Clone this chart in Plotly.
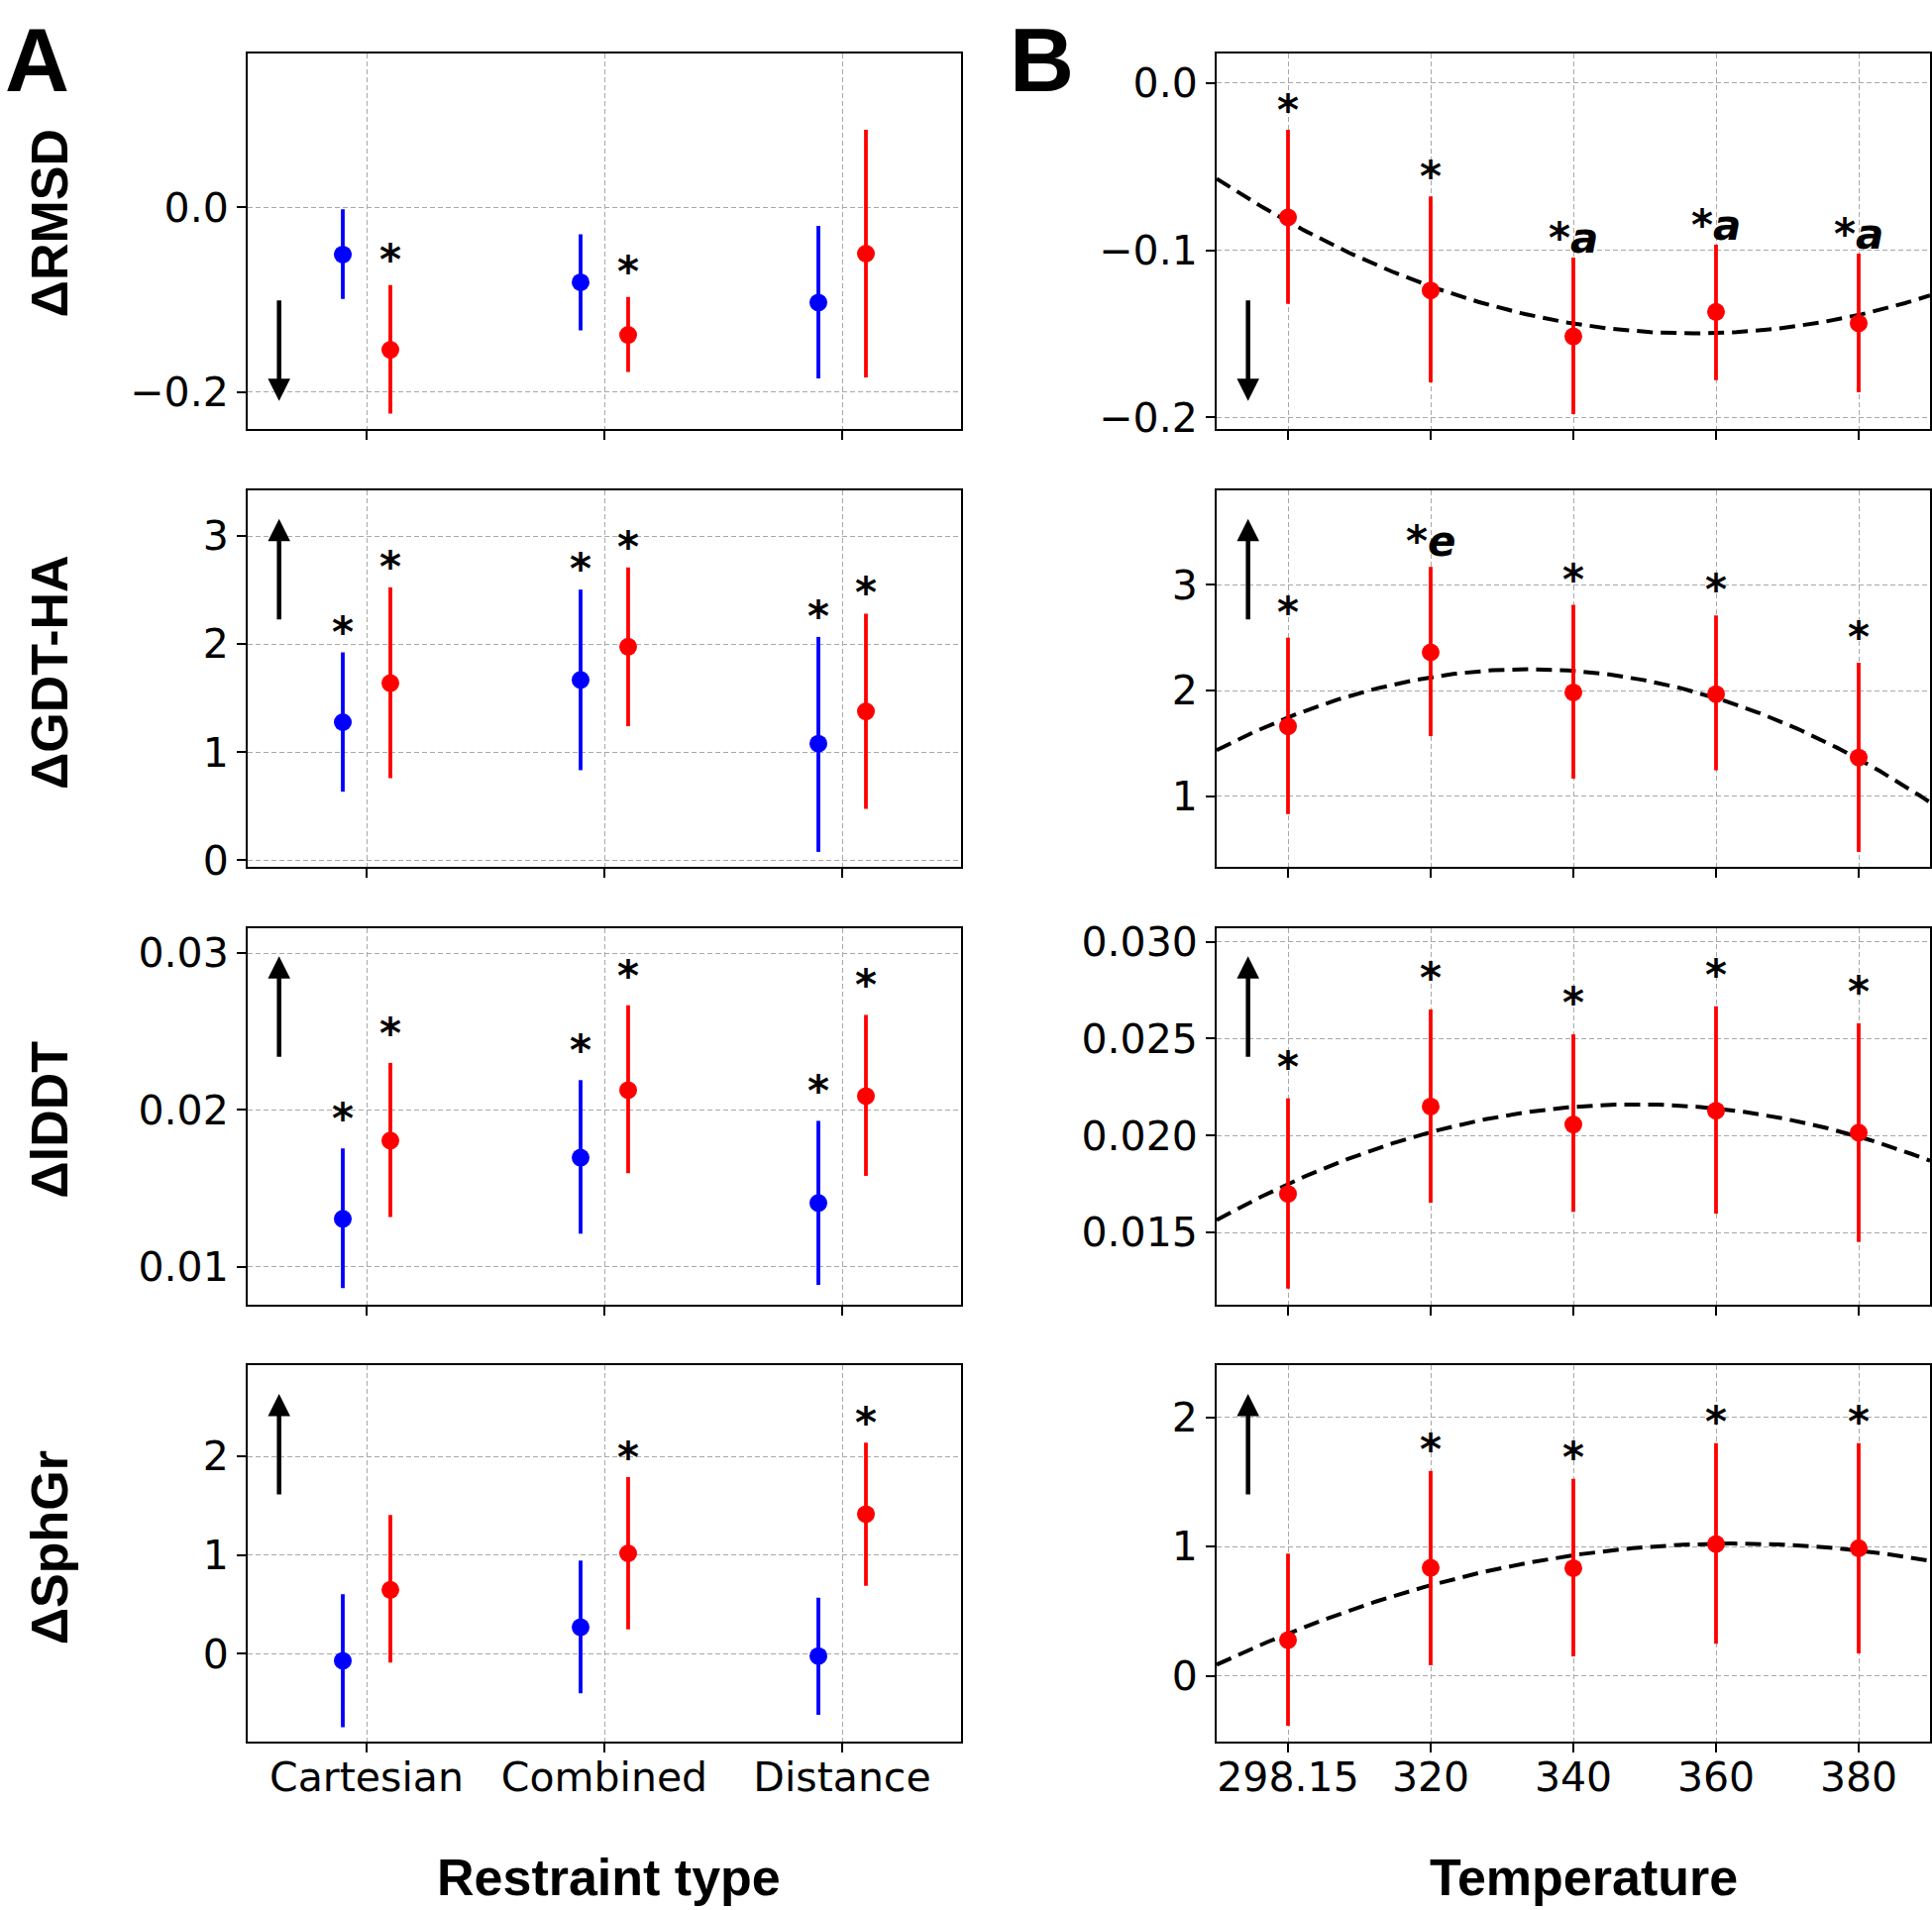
import numpy as np
import plotly.graph_objects as go

# ---------------- data ----------------
restraint_types = ["Cartesian", "Combined", "Distance"]
temperatures = ["298.15", "320", "340", "360", "380"]

# Panel A (blue / red series per restraint type)
rmsd_blue_mean = [-0.051, -0.081, -0.103]
rmsd_blue_lo = [-0.099, -0.133, -0.185]
rmsd_blue_hi = [-0.002, -0.029, -0.020]
rmsd_red_mean = [-0.154, -0.138, -0.050]
rmsd_red_lo = [-0.223, -0.178, -0.184]
rmsd_red_hi = [-0.084, -0.097, 0.084]
rmsd_blue_sig = ["", "", ""]
rmsd_red_sig = ["*", "*", ""]

gdt_blue_mean = [1.277, 1.668, 1.078]
gdt_blue_lo = [0.634, 0.833, 0.077]
gdt_blue_hi = [1.923, 2.504, 2.066]
gdt_red_mean = [1.638, 1.975, 1.377]
gdt_red_lo = [0.759, 1.240, 0.475]
gdt_red_hi = [2.525, 2.709, 2.281]
gdt_blue_sig = ["*", "*", "*"]
gdt_red_sig = ["*", "*", "*"]

lddt_blue_mean = [0.01305, 0.01695, 0.01406]
lddt_blue_lo = [0.00863, 0.01210, 0.00884]
lddt_blue_hi = [0.01754, 0.02190, 0.01930]
lddt_red_mean = [0.01804, 0.02126, 0.02088]
lddt_red_lo = [0.01316, 0.01596, 0.01579]
lddt_red_hi = [0.02300, 0.02668, 0.02606]
lddt_blue_sig = ["*", "*", "*"]
lddt_red_sig = ["*", "*", "*"]

sph_blue_mean = [-0.070, 0.270, -0.022]
sph_blue_lo = [-0.744, -0.400, -0.617]
sph_blue_hi = [0.605, 0.945, 0.570]
sph_red_mean = [0.648, 1.018, 1.415]
sph_red_lo = [-0.088, 0.248, 0.689]
sph_red_hi = [1.408, 1.790, 2.140]
sph_blue_sig = ["", "", ""]
sph_red_sig = ["", "*", "*"]

# Panel B (per temperature)
rmsd_t_mean = [-0.0803, -0.1240, -0.1515, -0.1368, -0.1437]
rmsd_t_lo = [-0.1320, -0.1790, -0.1980, -0.1776, -0.1850]
rmsd_t_hi = [-0.0279, -0.0677, -0.1044, -0.0966, -0.1020]
rmsd_t_sig = ["*", "*", "*a", "*a", "*a"]

gdt_t_mean = [1.662, 2.361, 1.982, 1.966, 1.367]
gdt_t_lo = [0.832, 1.569, 1.168, 1.246, 0.475]
gdt_t_hi = [2.500, 3.169, 2.810, 2.710, 2.262]
gdt_t_sig = ["*", "*e", "*", "*", "*"]

lddt_t_mean = [0.01699, 0.02150, 0.02057, 0.02128, 0.02015]
lddt_t_lo = [0.01210, 0.01653, 0.01606, 0.01597, 0.01451]
lddt_t_hi = [0.02192, 0.02650, 0.02522, 0.02667, 0.02579]
lddt_t_sig = ["*", "*", "*", "*", "*"]

sph_t_mean = [0.276, 0.836, 0.833, 1.020, 0.987]
sph_t_lo = [-0.386, 0.082, 0.151, 0.248, 0.174]
sph_t_hi = [0.946, 1.585, 1.524, 1.800, 1.800]
sph_t_sig = ["", "*", "*", "*", "*"]

metric_titles = ["ΔRMSD", "ΔGDT-HA", "ΔlDDT", "ΔSphGr"]

# ---------------- layout helpers ----------------
W, H = 1950, 1928


def fy(t):
    # vertical pixel placement (compensated for the observed render mapping)
    return (t - 8.4) / 0.9863


col_px = [(250, 970), (1228, 1948)]
row_px = [(52, 432), (494, 874), (936, 1316), (1378, 1758)]
BLUE, RED = "#0000ff", "#ff0000"
TICK_FONT = dict(family="DejaVu Sans", size=41, color="black")
STAR_FONT = dict(family="DejaVu Sans", size=42, color="black")
TITLE_FONT = dict(family="Liberation Sans", size=52, color="black")

rowsA = [
    dict(bm=rmsd_blue_mean, bl=rmsd_blue_lo, bh=rmsd_blue_hi, bs=rmsd_blue_sig,
         rm=rmsd_red_mean, rl=rmsd_red_lo, rh=rmsd_red_hi, rs=rmsd_red_sig,
         yr=[-0.24, 0.167], tv=[-0.2, 0.0], tt=["−0.2", "0.0"], up=False, ss=0),
    dict(bm=gdt_blue_mean, bl=gdt_blue_lo, bh=gdt_blue_hi, bs=gdt_blue_sig,
         rm=gdt_red_mean, rl=gdt_red_lo, rh=gdt_red_hi, rs=gdt_red_sig,
         yr=[-0.06, 3.42], tv=[0, 1, 2, 3], tt=["0", "1", "2", "3"], up=True, ss=-5),
    dict(bm=lddt_blue_mean, bl=lddt_blue_lo, bh=lddt_blue_hi, bs=lddt_blue_sig,
         rm=lddt_red_mean, rl=lddt_red_lo, rh=lddt_red_hi, rs=lddt_red_sig,
         yr=[0.0076, 0.0316], tv=[0.01, 0.02, 0.03], tt=["0.01", "0.02", "0.03"], up=True, ss=4),
    dict(bm=sph_blue_mean, bl=sph_blue_lo, bh=sph_blue_hi, bs=sph_blue_sig,
         rm=sph_red_mean, rl=sph_red_lo, rh=sph_red_hi, rs=sph_red_sig,
         yr=[-0.89, 2.92], tv=[0, 1, 2], tt=["0", "1", "2"], up=True, ss=-6),
]
rowsB = [
    dict(m=rmsd_t_mean, l=rmsd_t_lo, h=rmsd_t_hi, s=rmsd_t_sig,
         yr=[-0.207, 0.018], tv=[-0.2, -0.1, 0.0], tt=["−0.2", "−0.1", "0.0"], up=False, ss=-6),
    dict(m=gdt_t_mean, l=gdt_t_lo, h=gdt_t_hi, s=gdt_t_sig,
         yr=[0.335, 3.89], tv=[1, 2, 3], tt=["1", "2", "3"], up=True, ss=0),
    dict(m=lddt_t_mean, l=lddt_t_lo, h=lddt_t_hi, s=lddt_t_sig,
         yr=[0.0113, 0.0307], tv=[0.015, 0.020, 0.025, 0.030],
         tt=["0.015", "0.020", "0.025", "0.030"], up=True, ss=6),
    dict(m=sph_t_mean, l=sph_t_lo, h=sph_t_hi, s=sph_t_sig,
         yr=[-0.51, 2.40], tv=[0, 1, 2], tt=["0", "1", "2"], up=True, ss=-4),
]

fig = go.Figure()
annotations = []
layout = {}


def names(k):
    s = "" if k == 0 else str(k + 1)
    return "x" + s, "y" + s, "xaxis" + s, "yaxis" + s


def fmt_sig(s):
    if not s:
        return ""
    if len(s) > 1:
        return "<b>" + s[0] + "<i>" + s[1:] + "</i></b>"
    return "<b>" + s + "</b>"


def add_points(xn, yn, xs, mean, lo, hi, color):
    mean = np.array(mean)
    fig.add_trace(go.Scatter(
        x=xs, y=mean, xaxis=xn, yaxis=yn, mode="markers",
        marker=dict(size=18, color=color),
        error_y=dict(type="data", symmetric=False,
                     array=np.array(hi) - mean, arrayminus=mean - np.array(lo),
                     color=color, thickness=3.8, width=0),
        showlegend=False, hoverinfo="skip"))


def add_sigs(xn, yn, xs, hi, sig, shift):
    for x, h, s in zip(xs, hi, sig):
        if s:
            annotations.append(dict(x=x, y=h, xref=xn, yref=yn, text=fmt_sig(s),
                                    showarrow=False, xanchor="center", yanchor="bottom",
                                    yshift=-1 + shift, font=STAR_FONT))


def add_arrow(xn, yn, up):
    if up:
        annotations.append(dict(x=0.044, y=0.925, xref=xn + " domain", yref=yn + " domain",
                                ax=0, ay=103, axref="pixel", ayref="pixel", text="",
                                showarrow=True, arrowhead=2, arrowsize=1.0,
                                arrowwidth=4.5, arrowcolor="black"))
    else:
        annotations.append(dict(x=0.044, y=0.075, xref=xn + " domain", yref=yn + " domain",
                                ax=0, ay=-103, axref="pixel", ayref="pixel", text="",
                                showarrow=True, arrowhead=2, arrowsize=1.0,
                                arrowwidth=4.5, arrowcolor="black"))


def axis_common():
    return dict(showline=True, mirror=True, linecolor="black", linewidth=2,
                ticks="outside", ticklen=9, tickwidth=1.5, tickcolor="black",
                showgrid=True, gridcolor="#a8a8a8", gridwidth=1, griddash="5px,3px",
                zeroline=False, tickfont=TICK_FONT)


for r in range(4):
    top, bot = row_px[r]
    ydom = [1 - fy(bot) / H, 1 - fy(top) / H]
    # ---- column A ----
    k = 2 * r
    xn, yn, xa, ya = names(k)
    d = rowsA[r]
    idx = np.arange(len(restraint_types))
    add_points(xn, yn, idx - 0.1, d["bm"], d["bl"], d["bh"], BLUE)
    add_points(xn, yn, idx + 0.1, d["rm"], d["rl"], d["rh"], RED)
    add_sigs(xn, yn, idx - 0.1, d["bh"], d["bs"], d["ss"])
    add_sigs(xn, yn, idx + 0.1, d["rh"], d["rs"], d["ss"])
    add_arrow(xn, yn, d["up"])
    layout[xa] = dict(domain=[col_px[0][0] / W, col_px[0][1] / W], anchor=yn,
                      range=[-0.5, 2.5], tickvals=list(idx), ticktext=restraint_types,
                      showticklabels=(r == 3), ticklabelstandoff=-10, **axis_common())
    layout[ya] = dict(domain=ydom, anchor=xn, range=d["yr"], tickvals=d["tv"],
                      ticktext=d["tt"], **axis_common())
    # ---- column B ----
    k = 2 * r + 1
    xn, yn, xa, ya = names(k)
    d = rowsB[r]
    idx = np.arange(len(temperatures))
    coef = np.polyfit(idx, d["m"], 2)
    xf = np.linspace(-0.5, 4.5, 200)
    fig.add_trace(go.Scatter(x=xf, y=np.polyval(coef, xf), xaxis=xn, yaxis=yn,
                             mode="lines", line=dict(color="black", width=4, dash="16px,8px"),
                             showlegend=False, hoverinfo="skip"))
    add_points(xn, yn, idx, d["m"], d["l"], d["h"], RED)
    add_sigs(xn, yn, idx, d["h"], d["s"], d["ss"])
    add_arrow(xn, yn, d["up"])
    layout[xa] = dict(domain=[col_px[1][0] / W, col_px[1][1] / W], anchor=yn,
                      range=[-0.5, 4.5], tickvals=list(idx), ticktext=temperatures,
                      showticklabels=(r == 3), ticklabelstandoff=-10, **axis_common())
    layout[ya] = dict(domain=ydom, anchor=xn, range=d["yr"], tickvals=d["tv"],
                      ticktext=d["tt"], **axis_common())

# y titles (left column)
ytitle_centers = [224, 678, 1130, 1562]
for t, cy in zip(metric_titles, ytitle_centers):
    annotations.append(dict(x=50 / W, y=1 - fy(cy) / H, xref="paper", yref="paper",
                            text="<b>" + t + "</b>", textangle=-90, showarrow=False,
                            xanchor="center", yanchor="middle", font=TITLE_FONT))

# x titles
annotations.append(dict(x=614 / W, y=1 - fy(1895) / H, xref="paper", yref="paper",
                        text="<b>Restraint type</b>", showarrow=False,
                        xanchor="center", yanchor="middle", font=TITLE_FONT))
annotations.append(dict(x=1598 / W, y=1 - fy(1895) / H, xref="paper", yref="paper",
                        text="<b>Temperature</b>", showarrow=False,
                        xanchor="center", yanchor="middle", font=TITLE_FONT))

# panel labels (kept fully inside the page)
PANEL_FONT = dict(family="Liberation Sans", size=90, color="black")
annotations.append(dict(x=37 / W, y=1.0, xref="paper", yref="paper", text="<b>A</b>",
                        showarrow=False, xanchor="center", yanchor="top", borderpad=0,
                        font=PANEL_FONT))
annotations.append(dict(x=1051 / W, y=1.0, xref="paper", yref="paper", text="<b>B</b>",
                        showarrow=False, xanchor="center", yanchor="top", borderpad=0,
                        font=PANEL_FONT))

fig.update_layout(width=W, height=H, margin=dict(l=0, r=0, t=0, b=0),
                  plot_bgcolor="white", paper_bgcolor="white",
                  annotations=annotations, showlegend=False, **layout)

post = (
    "document.documentElement.style.margin='0';"
    "document.documentElement.style.padding='0';"
    "document.documentElement.style.overflow='hidden';"
    "document.body.style.margin='0';"
    "document.body.style.padding='0';"
    "document.body.style.overflow='hidden';"
    "var gdiv=document.querySelector('.plotly-graph-div');"
    "gdiv.style.position='absolute';gdiv.style.top='0px';gdiv.style.left='0px';"
)
fig.write_html("out.html", config={"displayModeBar": False}, post_script=post)
